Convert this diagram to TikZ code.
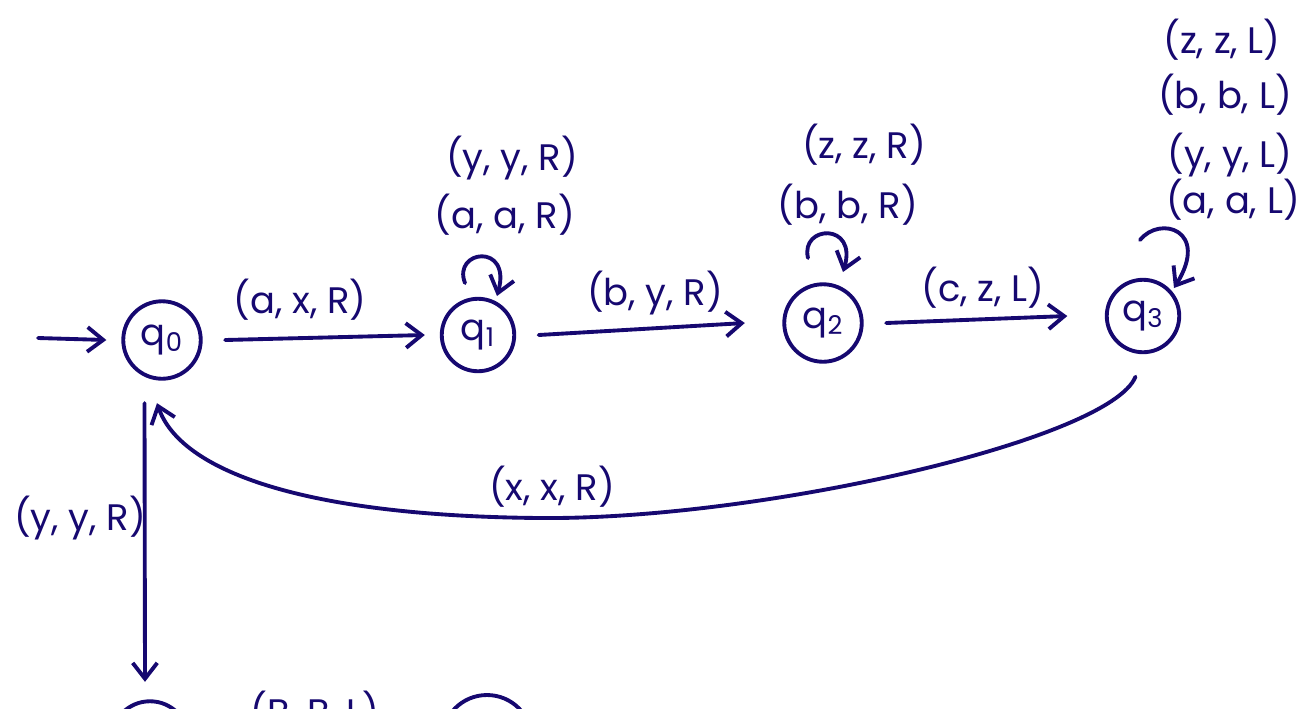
\documentclass[tikz,border=0pt]{standalone}
\usepackage{fontspec}
\setmainfont{Poppins}
\usetikzlibrary{arrows.meta}
\definecolor{ink}{RGB}{22,8,112}
\tikzset{
  pen/.style={draw=ink, line width=2.2pt, line cap=round, line join=round},
  arr/.style={pen, -{Straight Barb[length=9pt,width=14pt,line width=2.2pt]}},
  state/.style={pen, circle, inner sep=0pt, minimum size=1.55cm, text=ink, font=\fontsize{21}{25}\selectfont},
  lab/.style={text=ink, font=\fontsize{21}{25}\selectfont, inner sep=0pt}
}
\begin{document}
\begin{tikzpicture}[x=0.02cm,y=-0.02cm]
\useasboundingbox (0,0) rectangle (1316,708);
\clip (0,0) rectangle (1316,708);
% states
\node[state] (q0) at (162,340) {q\textsubscript{0}};
\node[state, minimum size=1.45cm] (q1) at (478,335) {q\textsubscript{1}};
\node[state] (q2) at (823,323) {q\textsubscript{2}};
\node[state, minimum size=1.45cm] (q3) at (1143,316) {q\textsubscript{3}};
\node[state] (q4) at (150,740) {};
\node[state, minimum size=1.8cm] (q5) at (487,740) {};
% initial arrow
\coordinate (init) at (38,338);
\draw[arr] (init) -- ([xshift=-0.3cm]q0.west);
% transitions
\draw[arr] ([xshift=0.45cm]q0.east) -- ([xshift=-0.3cm]q1.west);
\draw[arr] ([xshift=0.45cm]q1.east) -- ([xshift=-0.75cm]q2.west);
\draw[arr] ([xshift=0.45cm]q2.east) -- ([xshift=-0.75cm]q3.west);
\draw[arr] ([yshift=-0.45cm,xshift=-0.15cm]q3.south) .. controls (1110,440) and (760,520) .. (540,518)
  .. controls (300,516) and (180,470) .. ([yshift=-0.45cm,xshift=-0.1cm]q0.south);
\draw[arr] ([yshift=-0.45cm,xshift=-0.35cm]q0.south) -- ([yshift=0.35cm,xshift=-0.1cm]q4.north);
% self loops
\coordinate (l1a) at (465,283);
\coordinate (l1b) at (497,296);
\draw[arr] (l1a) .. controls (452,250) and (512,242) .. (l1b);
\coordinate (l2a) at (808,258);
\coordinate (l2b) at (843,272);
\draw[arr] (l2a) .. controls (800,225) and (858,222) .. (l2b);
\coordinate (l3a) at (1140,240);
\coordinate (l3b) at (1174,288);
\draw[arr] (l3a) .. controls (1160,215) and (1210,230) .. (l3b);
% labels
\node[lab] (t01) at (300,300) {(a, x, R)};
\node[lab] (t12) at (655,293) {(b, y, R)};
\node[lab] (t23) at (983,288) {(c, z, L)};
\node[lab] (t30) at (552,487) {(x, x, R)};
\node[lab] (t04) at (80,518) {(y, y, R)};
\node[lab] (t11a) at (512,158) {(y, y, R)};
\node[lab] (t11b) at (505,215) {(a, a, R)};
\node[lab] (t22a) at (864,145) {(z, z, R)};
\node[lab] (t22b) at (848,205) {(b, b, R)};
\node[lab] (t33a) at (1222,40) {(z, z, L)};
\node[lab] (t33b) at (1225,95) {(b, b, L)};
\node[lab] (t33c) at (1230,155) {(y, y, L)};
\node[lab] (t33d) at (1233,200) {(a, a, L)};
\node[lab] (t45) at (315,712) {(B, B, L)};
\end{tikzpicture}
\end{document}
